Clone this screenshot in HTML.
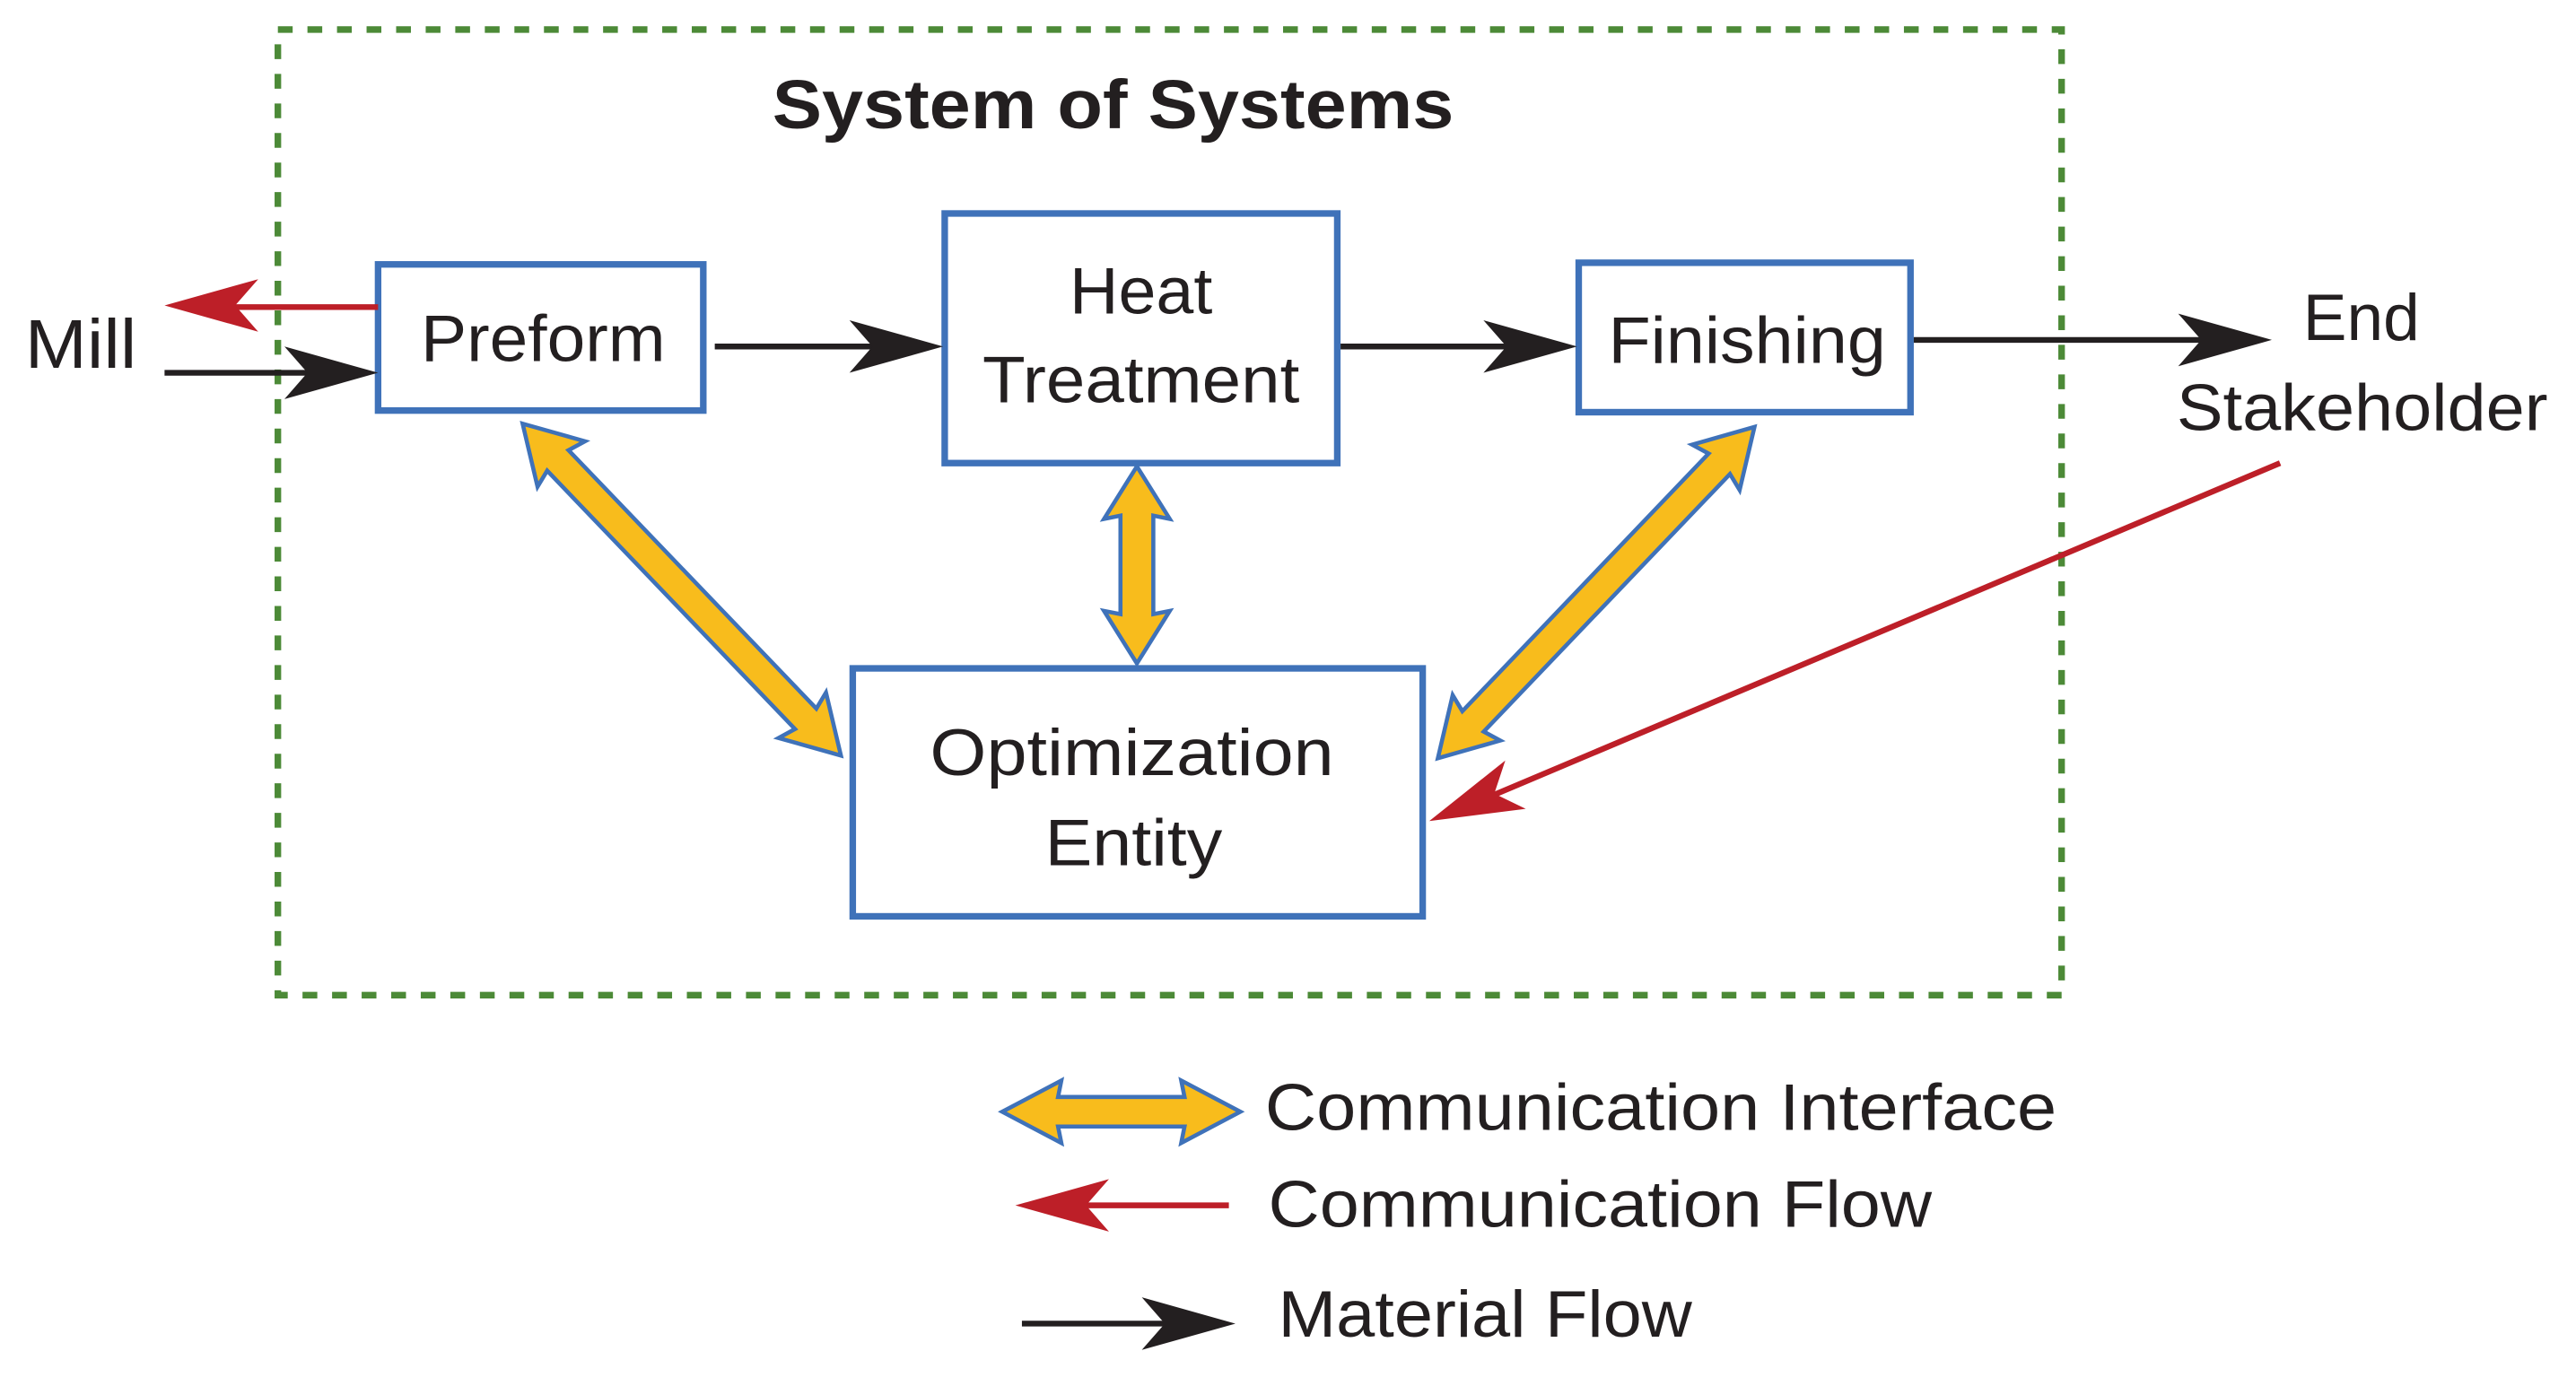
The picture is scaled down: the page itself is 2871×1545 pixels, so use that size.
<!DOCTYPE html>
<html><head><meta charset="utf-8"><style>
html,body{margin:0;padding:0;background:#fff;}
svg{display:block;}
text{font-family:"Liberation Sans",sans-serif;fill:#231f20;}
</style></head><body>
<svg width="2871" height="1545" viewBox="0 0 1568 844" xmlns="http://www.w3.org/2000/svg">
<rect x="169" y="18" width="1086" height="588" fill="none" stroke="#4c8a37" stroke-width="4" stroke-dasharray="9 9"/>
<text x="470" y="78" font-size="42" font-weight="bold" textLength="415" lengthAdjust="spacingAndGlyphs">System of Systems</text>

<rect x="230" y="161" width="198" height="89" fill="#fff" stroke="#3f72b9" stroke-width="4"/>
<text x="256" y="220" font-size="40" textLength="149" lengthAdjust="spacingAndGlyphs">Preform</text>
<rect x="575" y="130" width="239" height="152" fill="#fff" stroke="#3f72b9" stroke-width="4"/>
<text x="651" y="191" font-size="40" textLength="87" lengthAdjust="spacingAndGlyphs">Heat</text>
<text x="598" y="245" font-size="40" textLength="193" lengthAdjust="spacingAndGlyphs">Treatment</text>
<rect x="961" y="160" width="202" height="91" fill="#fff" stroke="#3f72b9" stroke-width="4"/>
<text x="979" y="221" font-size="40" textLength="169" lengthAdjust="spacingAndGlyphs">Finishing</text>
<rect x="519" y="407" width="347" height="151" fill="#fff" stroke="#3f72b9" stroke-width="4"/>
<text x="566" y="472" font-size="40" textLength="246" lengthAdjust="spacingAndGlyphs">Optimization</text>
<text x="636" y="527" font-size="40" textLength="108" lengthAdjust="spacingAndGlyphs">Entity</text>

<text x="15" y="224" font-size="42" textLength="68" lengthAdjust="spacingAndGlyphs">Mill</text>
<text x="1402" y="207" font-size="40" textLength="71" lengthAdjust="spacingAndGlyphs">End</text>
<text x="1325" y="262" font-size="40" textLength="226" lengthAdjust="spacingAndGlyphs">Stakeholder</text>

<line x1="230" y1="187" x2="130" y2="187" stroke="#bd1f28" stroke-width="3.5"/>
<path d="M100,186 L157,170 L143,186 L157,202 Z" fill="#bd1f28"/>
<line x1="1388" y1="282" x2="900" y2="488" stroke="#bd1f28" stroke-width="3.5"/>
<g transform="translate(870,500) rotate(-22.9)"><path d="M0,0 L57,-16 L43,0 L57,16 Z" fill="#bd1f28"/></g>

<line x1="100" y1="227" x2="205" y2="227" stroke="#231f20" stroke-width="3.5"/>
<path d="M230,227 L173,211 L187,227 L173,243 Z" fill="#231f20"/>
<line x1="435" y1="211" x2="550" y2="211" stroke="#231f20" stroke-width="3.5"/>
<path d="M574,211 L517,195 L531,211 L517,227 Z" fill="#231f20"/>
<line x1="816" y1="211" x2="935" y2="211" stroke="#231f20" stroke-width="3.5"/>
<path d="M960,211 L903,195 L917,211 L903,227 Z" fill="#231f20"/>
<line x1="1165" y1="207" x2="1355" y2="207" stroke="#231f20" stroke-width="3.5"/>
<path d="M1383,207 L1326,191 L1340,207 L1326,223 Z" fill="#231f20"/>

<g transform="translate(318,258) rotate(46.2)"><path d="M0,0 L34,-20 L31,-9 L249,-9 L246,-20 L280,0 L246,20 L249,9 L31,9 L34,20 Z" fill="#f8bc1c" stroke="#3f72b9" stroke-width="2.5"/></g>
<g transform="translate(692,284) rotate(90)"><path d="M0,0 L32,-20 L30,-10 L90,-10 L88,-20 L120,0 L88,20 L90,10 L30,10 L32,20 Z" fill="#f8bc1c" stroke="#3f72b9" stroke-width="2.5"/></g>
<g transform="translate(1068,260) rotate(133.7)"><path d="M0,0 L34,-20 L31,-9 L248,-9 L245,-20 L279,0 L245,20 L248,9 L31,9 L34,20 Z" fill="#f8bc1c" stroke="#3f72b9" stroke-width="2.5"/></g>

<g transform="translate(610,677)"><path d="M0,0 L36,-19 L34,-9 L111,-9 L109,-19 L145,0 L109,19 L111,9 L34,9 L36,19 Z" fill="#f8bc1c" stroke="#3f72b9" stroke-width="2.5"/></g>
<text x="770" y="688" font-size="40" textLength="482" lengthAdjust="spacingAndGlyphs">Communication Interface</text>
<line x1="748" y1="734" x2="645" y2="734" stroke="#bd1f28" stroke-width="3.5"/>
<path d="M618,734 L675,718 L661,734 L675,750 Z" fill="#bd1f28"/>
<text x="772" y="747" font-size="40" textLength="404" lengthAdjust="spacingAndGlyphs">Communication Flow</text>
<line x1="622" y1="806" x2="725" y2="806" stroke="#231f20" stroke-width="3.5"/>
<path d="M752,806 L695,790 L709,806 L695,822 Z" fill="#231f20"/>
<text x="778" y="814" font-size="40" textLength="252" lengthAdjust="spacingAndGlyphs">Material Flow</text>
</svg>
</body></html>
